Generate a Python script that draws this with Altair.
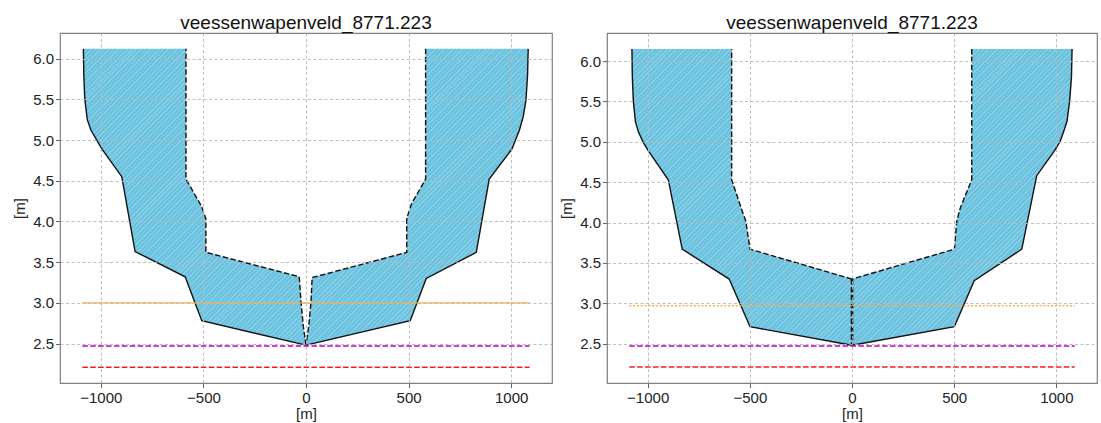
import math
import altair as alt
import pandas as pd

TITLE = "veessenwapenveld_8771.223"
X_TICKS = [-1000, -500, 0, 500, 1000]
Y_TICKS = [2.5, 3.0, 3.5, 4.0, 4.5, 5.0, 5.5, 6.0]
X_DOMAIN = [-1199, 1199]
PLOT_H = 350

FONT = "Liberation Sans"
FILL_BASE = "#6bc2df"
FILL_HATCH = "#88cee7"

# ---- left profile -------------------------------------------------------
# outer contour, left bank (top -> bottom) and right bank (bottom -> top)
A_OUT_L_X = [-1085, -1083, -1078, -1066, -1048, -1020, -995, -898, -833, -589, -508, 0]
A_OUT_L_Y = [6.12, 5.80, 5.50, 5.25, 5.12, 5.00, 4.89, 4.55, 3.63, 3.32, 2.78, 2.48]
A_OUT_R_X = [0, 508, 586, 830, 893, 1004, 1021, 1040, 1059, 1072, 1080, 1083]
A_OUT_R_Y = [2.48, 2.78, 3.30, 3.62, 4.52, 4.89, 5.00, 5.12, 5.29, 5.49, 5.80, 6.12]
# inner contour, right bank (top -> bottom) and left bank (bottom -> top)
A_IN_R_X = [583, 583, 515, 491, 491, 30, 24, 13, 0]
A_IN_R_Y = [6.12, 4.52, 4.22, 4.04, 3.62, 3.31, 3.00, 2.71, 2.48]
A_IN_L_X = [0, -13, -24, -33, -488, -488, -508, -585, -585]
A_IN_L_Y = [2.48, 2.71, 3.00, 3.32, 3.62, 4.03, 4.18, 4.52, 6.12]
# horizontal levels: orange, purple, red
A_LEVELS = [3.00, 2.47, 2.21]

# ---- right profile ------------------------------------------------------
B_OUT_L_X = [-1077, -1075, -1070, -1060, -1045, -1021, -995, -899, -831, -601, -499, 0]
B_OUT_L_Y = [6.15, 5.80, 5.50, 5.25, 5.12, 4.99, 4.88, 4.53, 3.67, 3.30, 2.71, 2.48]
B_OUT_R_X = [0, 501, 598, 831, 904, 989, 1018, 1035, 1052, 1065, 1074, 1077]
B_OUT_R_Y = [2.48, 2.71, 3.28, 3.67, 4.58, 4.88, 5.00, 5.12, 5.25, 5.50, 5.80, 6.15]
B_IN_R_X = [586, 586, 530, 513, 501, 0]
B_IN_R_Y = [6.15, 4.53, 4.18, 4.02, 3.67, 3.30]
B_IN_L_X = [0, -499, -520, -537, -589, -589]
B_IN_L_Y = [3.30, 3.67, 4.02, 4.14, 4.53, 6.15]
B_AXIS_X = [0, 0]
B_AXIS_Y = [3.30, 2.48]
B_LEVELS = [2.97, 2.47, 2.21]

LEVEL_X = [-1090, 1090]
LEVEL_COLORS = ["#f5b14a", "#c000c8", "#ff1a1a"]


def seg(xs, ys, name):
    return pd.DataFrame({"x": xs, "y": ys, "i": range(len(xs)), "part": name})


def hatch_fill(w_px, h_px, period=3.2, frac=0.35):
    """Striped '///' fill built from a linear gradient over the mark bounds."""
    k = (w_px + h_px) / (w_px ** 2 + h_px ** 2)
    dt = math.sqrt(2) * period / (w_px + h_px)
    stops = []
    t = 0.0
    while t < 1.0:
        a = min(t + dt * (1 - frac), 1.0)
        b = min(t + dt, 1.0)
        stops += [
            {"offset": round(t, 5), "color": FILL_BASE},
            {"offset": round(a, 5), "color": FILL_BASE},
            {"offset": round(a, 5), "color": FILL_HATCH},
            {"offset": round(b, 5), "color": FILL_HATCH},
        ]
        t += dt
    return {"gradient": "linear", "x1": 0, "y1": 0,
            "x2": k * w_px, "y2": k * h_px, "stops": stops}


def axes():
    common = dict(
        grid=True, gridColor="#b8b8b8", gridDash=[3, 2.5], gridWidth=0.9,
        tickColor="#666666", tickSize=4.5, tickWidth=1, domain=False,
        labelFont=FONT, labelFontSize=15, labelColor="#222222",
        titleFont=FONT, titleFontSize=15, titleFontWeight="normal",
        titleColor="#222222", zindex=1,
    )
    xa = alt.Axis(values=X_TICKS, format="d", labelPadding=2.5, titlePadding=1, **common)
    ya = alt.Axis(values=Y_TICKS, format=".1f", labelPadding=2, titlePadding=5, **common)
    return xa, ya


def panel(out_l, out_r, in_r, in_l, levels, y_domain, width, orange_style, extra=None):
    xa, ya = axes()
    xs = alt.Scale(domain=X_DOMAIN, nice=False, zero=False)
    ys = alt.Scale(domain=y_domain, nice=False, zero=False)
    X = lambda f: alt.X(f, type="quantitative", scale=xs, axis=xa, title="[m]")
    Y = lambda f: alt.Y(f, type="quantitative", scale=ys, axis=ya, title="[m]")

    poly_x = out_l[0] + out_r[0][1:] + in_r[0] + in_l[0][1:]
    poly_y = out_l[1] + out_r[1][1:] + in_r[1] + in_l[1][1:]
    w_px = (max(poly_x) - min(poly_x)) * width / (X_DOMAIN[1] - X_DOMAIN[0])
    h_px = (max(poly_y) - min(poly_y)) * PLOT_H / (y_domain[1] - y_domain[0])

    body = alt.Chart(seg(poly_x, poly_y, "body")).mark_line(
        interpolate="linear-closed", fill=hatch_fill(w_px, h_px), strokeWidth=0
    ).encode(x=X("x"), y=Y("y"), order="i:Q")

    outer = pd.concat([seg(*out_l, "l"), seg(*out_r, "r")])
    outer_lines = alt.Chart(outer).mark_line(
        color="#111111", strokeWidth=1.4
    ).encode(x=X("x"), y=Y("y"), order="i:Q", detail="part:N")

    inner = pd.concat([seg(*in_r, "r"), seg(*in_l, "l")])
    inner_lines = alt.Chart(inner).mark_line(
        color="#111111", strokeWidth=1.4, strokeDash=[5.5, 2.4]
    ).encode(x=X("x"), y=Y("y"), order="i:Q", detail="part:N")

    layers = [body, outer_lines, inner_lines]
    if extra is not None:
        layers.append(
            alt.Chart(seg(*extra, "axis")).mark_line(
                color="#111111", strokeWidth=2.6, strokeDash=[5.5, 2.4]
            ).encode(x=X("x"), y=Y("y"), order="i:Q")
        )

    styles = [orange_style,
              {"strokeWidth": 1.5, "strokeDash": [5.5, 2.4]},
              {"strokeWidth": 1.5, "strokeDash": [5.5, 2.4]}]
    for lv, col, st in zip(levels, LEVEL_COLORS, styles):
        df = pd.DataFrame({"x0": [LEVEL_X[0]], "x1": [LEVEL_X[1]], "y": [lv]})
        layers.append(
            alt.Chart(df).mark_rule(color=col, **st).encode(x=X("x0"), x2="x1", y=Y("y"))
        )

    return alt.layer(*layers).properties(
        width=width, height=PLOT_H,
        title=alt.TitleParams(TITLE, font=FONT, fontSize=19, fontWeight="normal",
                              color="#111111", offset=0),
    )


left = panel((A_OUT_L_X, A_OUT_L_Y), (A_OUT_R_X, A_OUT_R_Y),
             (A_IN_R_X, A_IN_R_Y), (A_IN_L_X, A_IN_L_Y),
             A_LEVELS, [2.015, 6.315], 492,
             {"strokeWidth": 1.2})
right = panel((B_OUT_L_X, B_OUT_L_Y), (B_OUT_R_X, B_OUT_R_Y),
              (B_IN_R_X, B_IN_R_Y), (B_IN_L_X, B_IN_L_Y),
              B_LEVELS, [2.013, 6.347], 490,
              {"strokeWidth": 1.6, "strokeDash": [2, 1.8]},
              extra=(B_AXIS_X, B_AXIS_Y))

chart = alt.hconcat(left, right, spacing=55, bounds="flush").properties(
    padding={"left": 12, "top": 13, "right": 2, "bottom": 2}
).configure_view(stroke="#808080", strokeWidth=1.2)

chart.save("out.html", embed_options={"renderer": "svg", "actions": False})
